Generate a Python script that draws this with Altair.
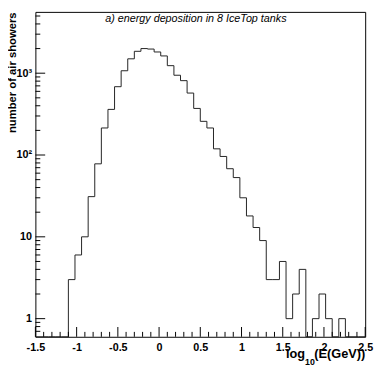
import altair as alt
import pandas as pd

# histogram: 50 bins from -1.5 to 2.5 (width 0.08)
counts = [0, 0, 0, 0, 0, 3, 6, 10, 31, 78,
          214, 361, 684, 1071, 1499, 1852, 2000, 1973, 1817, 1626,
          1236, 944, 811, 572, 371, 258, 214, 119, 96, 68,
          53, 30, 18, 13, 9, 3, 3, 5, 1, 2,
          4, 0, 1, 2, 1, 0, 1, 0, 0, 0]
bin_lo = -1.5
bin_w = 0.08

x_major = [-1.5, -1.0, -0.5, 0.0, 0.5, 1.0, 1.5, 2.0, 2.5]
x_minor = [-1.4, -1.3, -1.2, -1.1, -0.9, -0.8, -0.7, -0.6, -0.4, -0.3, -0.2, -0.1,
           0.1, 0.2, 0.3, 0.4, 0.6, 0.7, 0.8, 0.9, 1.1, 1.2, 1.3, 1.4,
           1.6, 1.7, 1.8, 1.9, 2.1, 2.2, 2.3, 2.4]
y_major = [1, 10, 100, 1000]
y_minor = [0.7, 0.8, 0.9, 2, 3, 4, 5, 6, 7, 8, 9,
           20, 30, 40, 50, 60, 70, 80, 90,
           200, 300, 400, 500, 600, 700, 800, 900,
           2000, 3000, 4000, 5000]

title_text = "a) energy deposition in 8 IceTop tanks"
y_title = "number of air showers"

edges = [round(bin_lo + bin_w * i, 4) for i in range(len(counts) + 1)]
hist = pd.DataFrame({"edge": edges, "count": counts + [counts[-1]]})

FONT = "Liberation Sans"
W, H = 337, 332

xscale = alt.Scale(domain=[-1.5, 2.5], nice=False, zero=False)
yscale = alt.Scale(type="log", domain=[0.6, 5615], nice=False, clamp=True)

xaxis = alt.Axis(values=x_major, labelExpr="'' + datum.value", ticks=False, tickSize=0,
                 domain=False, grid=False, labelFont=FONT, labelFontSize=11,
                 labelFontWeight="bold", labelColor="black", labelPadding=5,
                 labelFlush=False, labelOverlap=False, title=None)
ylabel_expr = ("datum.value == 1 ? '1' : datum.value == 10 ? '10' : "
               "datum.value == 100 ? '10\u00b2' : '10\u00b3'")
yaxis = alt.Axis(values=y_major, labelExpr=ylabel_expr, ticks=False, tickSize=0,
                 domain=False, grid=False, labelFont=FONT, labelFontSize=11,
                 labelFontWeight="bold", labelColor="black", labelPadding=4,
                 labelOverlap=False, labelBound=False,
                 title=y_title, titleAngle=270, titleX=-20, titleY=0,
                 titleAlign="right", titleBaseline="alphabetic", titleFont=FONT,
                 titleFontSize=11.5, titleFontWeight="bold", titleColor="black")

line = alt.Chart(hist).transform_calculate(
    yv="max(datum['count'], 0.01)"
).mark_line(interpolate="step-after", color="#222222", strokeWidth=1).encode(
    x=alt.X("edge:Q", scale=xscale, axis=xaxis),
    y=alt.Y("yv:Q", scale=yscale, axis=yaxis),
)

xt_major = alt.Chart(pd.DataFrame({"edge": x_major})).mark_rule(color="black", strokeWidth=1).encode(
    x=alt.X("edge:Q", scale=xscale), y=alt.value(H), y2=alt.value(H - 10))
xt_minor = alt.Chart(pd.DataFrame({"edge": x_minor})).mark_rule(color="black", strokeWidth=1).encode(
    x=alt.X("edge:Q", scale=xscale), y=alt.value(H), y2=alt.value(H - 5))
yt_major = alt.Chart(pd.DataFrame({"yv": y_major})).mark_rule(color="black", strokeWidth=1).encode(
    y=alt.Y("yv:Q", scale=yscale), x=alt.value(0), x2=alt.value(10))
yt_minor = alt.Chart(pd.DataFrame({"yv": y_minor})).mark_rule(color="black", strokeWidth=1).encode(
    y=alt.Y("yv:Q", scale=yscale), x=alt.value(0), x2=alt.value(5))

title = alt.Chart(pd.DataFrame({"t": [title_text]})).mark_text(
    font=FONT, fontSize=11, fontStyle="italic", color="black", align="center", baseline="alphabetic"
).encode(x=alt.value(164), y=alt.value(10), text="t:N")

xt1 = alt.Chart(pd.DataFrame({"t": ["log"]})).mark_text(
    font=FONT, fontSize=13, fontWeight="bold", color="black", align="left", baseline="alphabetic"
).encode(x=alt.value(256), y=alt.value(354), text="t:N")
xt2 = alt.Chart(pd.DataFrame({"t": ["10"]})).mark_text(
    font=FONT, fontSize=9, fontWeight="bold", color="black", align="left", baseline="alphabetic"
).encode(x=alt.value(275.5), y=alt.value(361), text="t:N")
xt3 = alt.Chart(pd.DataFrame({"t": ["(E(GeV))"]})).mark_text(
    font=FONT, fontSize=13, fontWeight="bold", color="black", align="left", baseline="alphabetic"
).encode(x=alt.value(285), y=alt.value(354), text="t:N")

chart = alt.layer(line, xt_major, xt_minor, yt_major, yt_minor, title, xt1, xt2, xt3).properties(
    width=W, height=H, autosize="none",
    padding={"left": 28, "top": 0, "right": 9, "bottom": 32},
    background="white",
).configure_view(stroke="black", strokeWidth=1)

chart.save("out.html", embed_options={"renderer": "svg", "actions": False})
